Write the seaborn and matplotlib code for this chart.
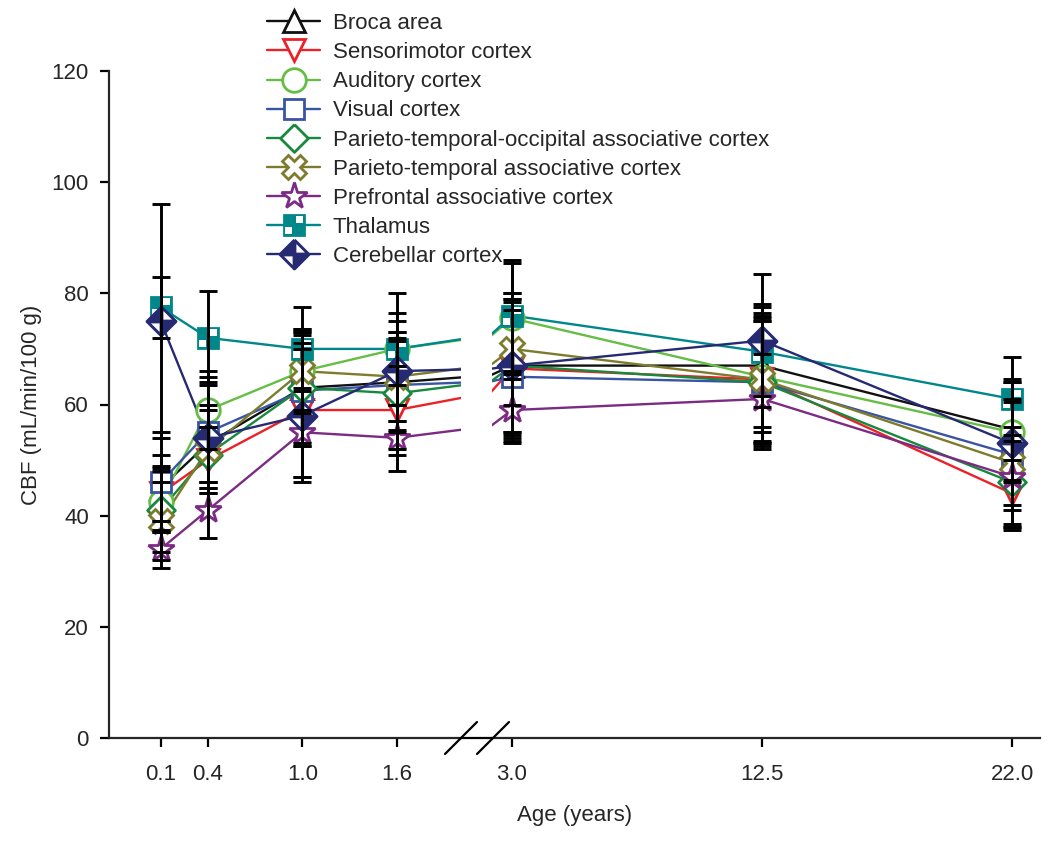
import numpy as np
import pandas as pd
import matplotlib
matplotlib.use("Agg")
import matplotlib.pyplot as plt
import seaborn as sns
from matplotlib.path import Path
from matplotlib.lines import Line2D
from matplotlib.legend_handler import HandlerTuple

# ---------------------------------------------------------------------------
# DATA
# ---------------------------------------------------------------------------
ages = [0.1, 0.4, 1.0, 1.6, 3.0, 12.5, 22.0]
left_ticks = [0.1, 0.4, 1.0, 1.6]
right_ticks = [3.0, 12.5, 22.0]

regions = [
    "Broca area",
    "Sensorimotor cortex",
    "Auditory cortex",
    "Visual cortex",
    "Parieto-temporal-occipital associative cortex",
    "Parieto-temporal associative cortex",
    "Prefrontal associative cortex",
    "Thalamus",
    "Cerebellar cortex",
]

broca = [45, 53, 63, 64, 67, 67, 55.5]
broca_sd = [6, 7, 10, 9, 13, 11, 9]
sensorimotor = [44, 50, 59, 59, 66.5, 64.5, 44]
sensorimotor_sd = [5, 6, 12, 8, 12, 12, 6]
auditory = [42.5, 59, 66, 70, 75.5, 65, 55]
auditory_sd = [5.5, 7, 7.5, 10, 10, 10, 9]
visual = [46, 55, 62.5, 63.5, 65, 64, 51]
visual_sd = [9, 10, 10, 8, 12, 11, 10]
pto = [41, 51, 63, 62, 67, 64, 46]
pto_sd = [7.5, 5, 10.5, 10, 12, 12, 8.5]
pt = [39, 52, 66, 65, 70, 64.5, 49.5]
pt_sd = [7, 7, 7, 8, 10, 11, 11]
prefrontal = [34, 41, 55, 54, 59, 61, 47]
prefrontal_sd = [3.5, 5, 8, 6, 5.5, 8, 9]
thalamus = [77.5, 72, 70, 70, 76, 69.5, 61]
thalamus_sd = [5.5, 8.5, 7.5, 6.5, 10, 8, 7.5]
cerebellar = [75, 54, 58, 66, 67, 71.5, 53]
cerebellar_sd = [21, 10, 12, 9, 12, 12, 11]

means = [broca, sensorimotor, auditory, visual, pto, pt, prefrontal, thalamus, cerebellar]
sds = [broca_sd, sensorimotor_sd, auditory_sd, visual_sd, pto_sd, pt_sd,
       prefrontal_sd, thalamus_sd, cerebellar_sd]

colors = ["#111111", "#EC2127", "#66BD45", "#3A54A4", "#17893D",
          "#7D7B2C", "#7B2B83", "#00878A", "#252A72"]

# ---------------------------------------------------------------------------
# MARKERS
# ---------------------------------------------------------------------------
diamond = Path([(0, 1), (1, 0), (0, -1), (-1, 0), (0, 1)])

a, b = 0.16, 0.82
square_quads = Path(
    [(a, a), (b, a), (b, b), (a, b), (a, a),
     (-b, -b), (-a, -b), (-a, -a), (-b, -a), (-b, -b)],
    [Path.MOVETO, Path.LINETO, Path.LINETO, Path.LINETO, Path.CLOSEPOLY] * 2,
)
c, d = 0.13, 0.72
diamond_quads = Path(
    [(c, c), (c, d), (d, c), (c, c),
     (-c, -c), (-c, -d), (-d, -c), (-c, -c)],
    [Path.MOVETO, Path.LINETO, Path.LINETO, Path.CLOSEPOLY] * 2,
)

MS = 15
marker_spec = [
    dict(marker="^", ms=MS + 1),
    dict(marker="v", ms=MS + 1),
    dict(marker="o", ms=MS + 2),
    dict(marker="s", ms=MS),
    dict(marker=diamond, ms=MS + 5),
    dict(marker="X", ms=MS + 2),
    dict(marker="*", ms=MS + 5),
    dict(marker="s", ms=MS),
    dict(marker=diamond, ms=MS + 6),
]
overlays = {7: (square_quads, MS * b), 8: (diamond_quads, (MS + 6) * d)}

# ---------------------------------------------------------------------------
# STYLE
# ---------------------------------------------------------------------------
FS = 16
sns.set_style("ticks")
plt.rcParams["font.family"] = ["Liberation Sans", "DejaVu Sans"]
plt.rcParams["font.size"] = FS

rows = []
for name, m in zip(regions, means):
    for age, v in zip(ages, m):
        rows.append({"age": age, "cbf": v, "region": name})
df = pd.DataFrame(rows)

W, H = 1050, 843
fig = plt.figure(figsize=(W / 100, H / 100), dpi=100)

x_l0, x_l1, x_r0, x_r1 = 109, 461, 492, 1040
y_bot, y_top = 738, 71
bottom = (H - y_bot) / H
height = (y_bot - y_top) / H
axL = fig.add_axes([x_l0 / W, bottom, (x_l1 - x_l0) / W, height])
axR = fig.add_axes([x_r0 / W, bottom, (x_r1 - x_r0) / W, height], sharey=axL)

for ax in (axL, axR):
    sns.lineplot(data=df, x="age", y="cbf", hue="region", hue_order=regions,
                 palette=colors, linewidth=1.7, legend=False, ax=ax, zorder=2)
    for i, m in enumerate(means):
        spec = marker_spec[i]
        filled = i in overlays
        ax.plot(ages, m, linestyle="none", marker=spec["marker"], ms=spec["ms"],
                mfc=colors[i] if filled else "white", mec=colors[i], mew=2,
                zorder=3 + i * 0.01)
        if filled:
            path, ms = overlays[i]
            ax.plot(ages, m, linestyle="none", marker=path, ms=ms, mfc="white",
                    mec="none", mew=0, zorder=3.005 + i * 0.01)
    for m, s in zip(means, sds):
        ax.errorbar(ages, m, yerr=s, fmt="none", ecolor="black", elinewidth=2.1,
                    capsize=6.4, capthick=2.1, zorder=4)

legend_handles = []
for i, name in enumerate(regions):
    spec = marker_spec[i]
    filled = i in overlays
    h = Line2D([], [], color=colors[i], lw=1.7, marker=spec["marker"], ms=spec["ms"],
               mfc=colors[i] if filled else "white", mec=colors[i], mew=2)
    if filled:
        path, ms = overlays[i]
        h2 = Line2D([], [], linestyle="none", marker=path, ms=ms, mfc="white",
                    mec="none", mew=0)
        h = (h, h2)
    legend_handles.append(h)

axL.set_xlim(-0.228, 2.007)
axR.set_xlim(2.24, 23.06)
axL.set_ylim(0, 120)
axL.set_yticks(range(0, 121, 20))
axL.set_xticks(left_ticks)
axL.set_xticklabels([f"{t:.1f}" for t in left_ticks])
axR.set_xticks(right_ticks)
axR.set_xticklabels([f"{t:.1f}" for t in right_ticks])

for ax in (axL, axR):
    ax.set_xlabel("")
    ax.set_ylabel("")
    ax.spines["top"].set_visible(False)
    ax.spines["right"].set_visible(False)
    for sp in ax.spines.values():
        sp.set_linewidth(1.6)
    ax.tick_params(axis="both", width=1.6, length=6.5, labelsize=FS, color="black")
    ax.tick_params(axis="x", pad=12)
    ax.tick_params(axis="y", pad=8)
axR.spines["left"].set_visible(False)
axR.tick_params(axis="y", left=False, labelleft=False)

axL.set_ylabel("CBF (mL/min/100 g)", fontsize=FS)
axL.yaxis.set_label_coords(-0.19, 0.5)
fig.text((x_l0 + x_r1) / 2 / W, 1 - 815 / H, "Age (years)", ha="center",
         va="center", fontsize=FS)

# axis break: join the bottom spine and draw the two slashes
yb = bottom
fig.add_artist(Line2D([x_l1 / W, x_r0 / W], [yb, yb], color="black", lw=1.6))
for xc in (x_l1, x_r0 + 1):
    fig.add_artist(Line2D([(xc - 16) / W, (xc + 16) / W],
                          [(H - 754) / H, (H - 722) / H], color="black", lw=1.6))

fig.legend(legend_handles, regions, loc="upper left",
           bbox_to_anchor=(256 / W, 1 - 2 / H), frameon=False, borderpad=0,
           handlelength=2.4, handletextpad=0.55, labelspacing=0.365, fontsize=FS,
           handler_map={tuple: HandlerTuple(ndivide=1)})

fig.savefig("out.png", dpi=100)
